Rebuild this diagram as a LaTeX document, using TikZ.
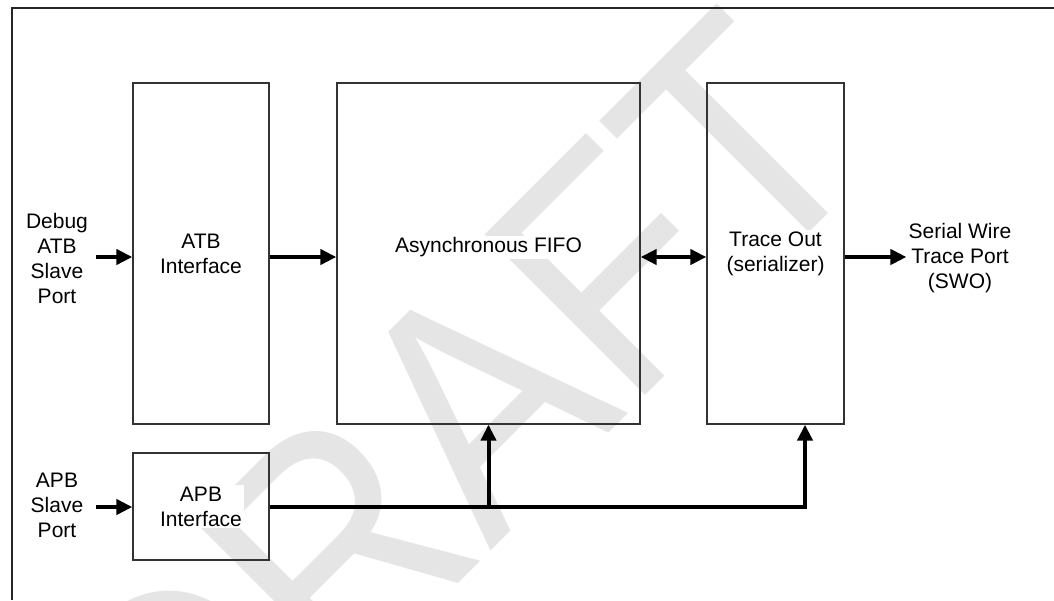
\documentclass[tikz,border=0pt]{standalone}
\usepackage{fontspec}
\setmainfont{Liberation Sans}
\usetikzlibrary{positioning,arrows.meta}

\begin{document}
\begin{tikzpicture}[x=1pt,y=-1pt,
    >={Triangle[length=16pt,width=15pt]},
    block/.style={draw=black!80,line width=1.3pt,minimum width=136pt,minimum height=341pt,inner sep=0pt},
    lbl/.style={fill=white,align=center,inner sep=2pt,font=\fontsize{21}{25}\selectfont},
    bus/.style={line width=4pt,->}]
            \useasboundingbox (0,0) rectangle (1054,600);
            \node[text=black!10,rotate=45,xscale=0.89,font=\fontsize{330}{330}\selectfont] (draft) at (456,425) {DRAFT};
            \draw[line width=1.5pt,black!85] (12,600) -- (12,8) -- (1054,8);
            % blocks
            \node[block] (atbif) at (201,253.5) {};
            \node[block,minimum width=303pt] (fifo) at (488.5,253.5) {};
            \node[block,minimum width=137pt] (trace) at (775.5,253.5) {};
            \node[block,minimum height=107pt] (apbif) at (201,506.5) {};
            \node[lbl] (atblbl) at (atbif.center) {ATB\\Interface};
            \node[lbl] (fifolbl) at ([yshift=6pt]fifo.center) {Asynchronous FIFO};
            \node[lbl] (tracelbl) at (trace.center) {Trace Out\\(serializer)};
            \node[lbl] (apblbl) at (apbif.center) {APB\\Interface};
            % ports
            \node[lbl] (dbgin) at (57,258) {Debug\\ATB\\Slave\\Port};
            \node[lbl] (apbin) at (57,505) {APB\\Slave\\Port};
            \node[lbl] (swo) at (960,258) {Serial Wire\\Trace Port\\(SWO)};
            \coordinate (dbgpin) at (96,257);
            \coordinate (apbpin) at (96,507);
            \coordinate (taptrace) at (805,507);
            \draw[bus] (dbgpin) -- (dbgpin -| atbif.west);
            \draw[bus] (dbgpin -| atbif.east) -- (dbgpin -| fifo.west);
            \draw[bus,<->] (dbgpin -| fifo.east) -- (dbgpin -| trace.west);
            \draw[bus] (dbgpin -| trace.east) -- (dbgpin -| swo.west);
            \draw[bus] (apbpin) -- (apbpin -| apbif.west);
            \draw[bus] (apbpin -| apbif.east) -- (taptrace) -- (taptrace |- trace.south);
            \draw[bus] (apbpin -| fifo.south) -- (fifo.south);
        \end{tikzpicture}
\end{document}
